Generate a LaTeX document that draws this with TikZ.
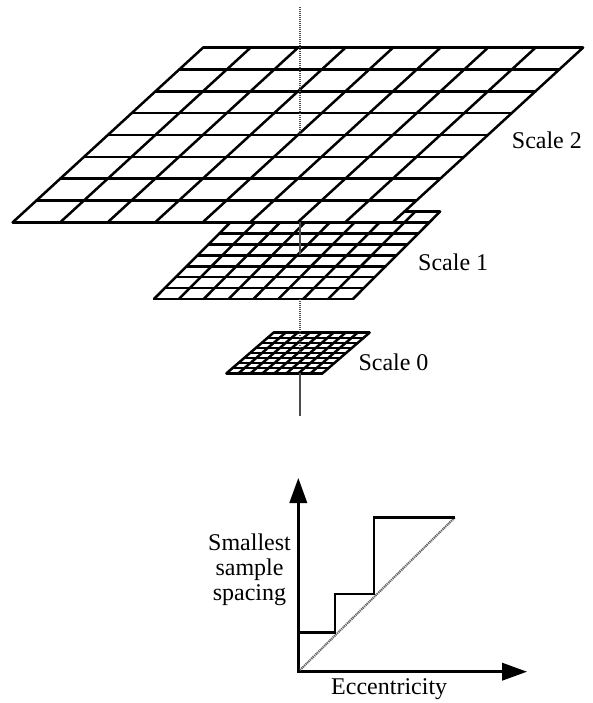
\documentclass[tikz,border=0pt]{standalone}
\usepackage{fontspec}
\setmainfont{Liberation Serif}
\usetikzlibrary{arrows.meta}
\newcommand\myplane[5]{%
  % #1 top-left x, #2 top y, #3 width, #4 height, #5 shift of bottom edge
  \fill[white] (#1,#2) -- ++(#3,0) -- ++(#5,#4) -- ++(-#3,0) -- cycle;
  \foreach \i in {0,...,8}{
    \draw[gridline] ({#1+\i*(#5)/8},{#2+\i*(#4)/8}) -- ++(#3,0);
    \draw[gridline] ({#1+\i*(#3)/8},#2) -- ++(#5,#4);
  }%
}
\begin{document}
\begin{tikzpicture}[x=1pt,y=-1pt,
  gridline/.style={line width=2.5pt,line cap=round,line join=round},
  axisline/.style={line width=1.4pt,black!70,dash pattern=on 1.2pt off 0.8pt},
  lbl/.style={font=\fontsize{24}{27}\selectfont,inner sep=0pt},
  plotline/.style={line width=2.5pt,line join=miter}]
\useasboundingbox (0,0) rectangle (593,703);
% hidden axis first
\draw[axisline] (300,7) -- (300,416);
% planes, farthest last
\myplane{273.5}{332.7}{96}{40.6}{-47}
\myplane{241}{211.7}{199}{87.3}{-87}
\myplane{203}{47.7}{380}{174.6}{-190.3}
% visible parts of the axis
\draw[axisline] (300,7) -- (300,135);
\draw[axisline] (300,222.3) -- (300,255.4);
\draw[axisline] (300,299) -- (300,353);
\draw[axisline] (300,373.3) -- (300,416);
% labels
\node[lbl,anchor=base west] (s2) at (511.7,148.3) {Scale 2};
\node[lbl,anchor=base west] (s1) at (418,270) {Scale 1};
\node[lbl,anchor=base west] (s0) at (358.3,370) {Scale 0};
% plot
\coordinate (o) at (298.3,671.7);
\coordinate (ytip) at (298.3,478);
\coordinate (xtip) at (527,671.7);
\draw[plotline,{Triangle[length=25pt,width=17.4pt]}-{Triangle[length=25pt,width=17.4pt]}] (ytip) -- (o) -- (xtip);
\draw[line width=2.2pt,black!60,dash pattern=on 1.2pt off 0.8pt] (300,670) -- (455,517.3);
\draw[plotline] (298.3,632.7) -- (335,632.7) -- (335,594) -- (374,594) -- (374,517.3) -- (455,517.3);
\node[lbl,anchor=base] (t1) at (249.5,550.7) {Smallest};
\node[lbl,anchor=base] (t2) at (249.5,575.5) {sample};
\node[lbl,anchor=base] (t3) at (249.5,600.3) {spacing};
\node[lbl,anchor=base west] (ex) at (331,694) {Eccentricity};
\end{tikzpicture}
\end{document}
